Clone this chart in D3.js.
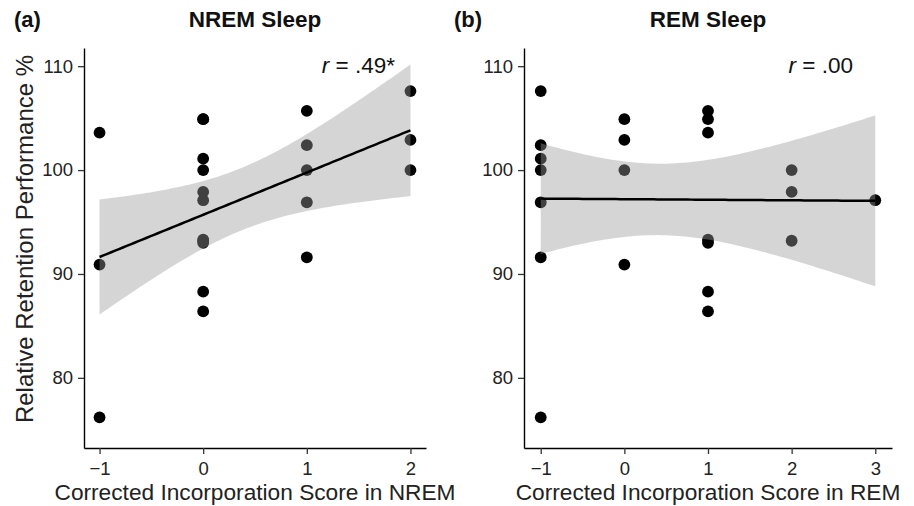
<!DOCTYPE html>
<html>
<head>
<meta charset="utf-8">
<script src="https://cdn.jsdelivr.net/npm/d3@7"></script>
<style>
  body { margin: 0; background: #fff; }
  svg { display: block; font-family: "Liberation Sans", Arial, Helvetica, sans-serif; }
</style>
</head>
<body>
<div id="chart"></div>
<script>
// values, one entry per participant
const nremScore = [-1, -1, -1, 0, 0, 0, 0, 0, 0, 0, 0, 0, 0, 0, 1, 1, 1, 1, 1, 2, 2, 2]
const nremRetention = [103.6, 90.9, 76.2, 104.9, 104.9, 101.1, 100, 97.9, 97.1, 93.3, 93.2, 93.0, 88.3, 86.4, 105.7, 102.4, 100, 96.9, 91.6, 107.6, 102.9, 100]

const remScore = [-1, -1, -1, -1, -1, -1, -1, 0, 0, 0, 0, 1, 1, 1, 1, 1, 1, 1, 2, 2, 2, 3]
const remRetention = [107.6, 102.4, 101.1, 100, 96.9, 91.6, 76.2, 104.9, 102.9, 100, 90.9, 105.7, 104.9, 103.6, 93.3, 93.0, 88.3, 86.4, 100, 97.9, 93.2, 97.1]

const nremTicks = [-1, 0, 1, 2]
const remTicks = [-1, 0, 1, 2, 3]
const retentionTicks = [80, 90, 100, 110]
const retentionLimits = [75, 110]

const panelTags = ['(a)', '(b)']
const panelTitles = ['NREM Sleep', 'REM Sleep']
const xTitles = ['Corrected Incorporation Score in NREM', 'Corrected Incorporation Score in REM']
const rValues = ['.49*', '.00']

// t quantile (0.975) for df = 20 (n = 22 in both panels)
const tCrit = 2.086

// plain least squares fit with a 95% confidence band, like geom_smooth(method = 'lm')
const fitLine = (xs, ys) => {
    const n = xs.length
    const mx = d3.mean(xs)
    const my = d3.mean(ys)
    let sxx = 0, sxy = 0
    xs.forEach((x, i) => {
        sxx += (x - mx) * (x - mx)
        sxy += (x - mx) * (ys[i] - my)
    })
    const slope = sxy / sxx
    const icpt = my - slope * mx
    let sse = 0
    xs.forEach((x, i) => {
        const r = ys[i] - (icpt + slope * x)
        sse += r * r
    })
    const s = Math.sqrt(sse / (n - 2))
    const [lo, hi] = d3.extent(xs)
    const band = d3.range(0, 81).map(k => {
        const x = lo + (hi - lo) * k / 80
        const fit = icpt + slope * x
        const half = tCrit * s * Math.sqrt(1 / n + (x - mx) * (x - mx) / sxx)
        return {x: x, fit: fit, lower: fit - half, upper: fit + half}
    })
    return band
}

// ggplot style 5% expansion
const expand = ([a, b]) => {
    const pad = (b - a) * 0.05
    return [a - pad, b + pad]
}

const width = 914
const height = 506

const svg = d3.select('#chart')
    .append('svg')
    .attr('width', width)
    .attr('height', height)

const panels = [
    {left: 84, right: 426, xs: nremScore, ys: nremRetention, ticks: nremTicks, yTitle: true},
    {left: 524, right: 892, xs: remScore, ys: remRetention, ticks: remTicks, yTitle: false}
]
const plotTop = 48
const plotBottom = 448

const yScale = d3.scaleLinear()
    .domain(expand(retentionLimits))
    .range([plotBottom, plotTop])

panels.forEach((p, i) => {

    const xScale = d3.scaleLinear()
        .domain(expand(d3.extent(p.ticks)))
        .range([p.left, p.right])

    const g = svg.append('g')

    // points first, the ribbon sits on top of them
    g.selectAll('.dot')
        .data(p.xs.map((x, k) => ({x: x, y: p.ys[k]})))
        .enter()
        .append('circle')
            .attr('cx', d => xScale(d.x))
            .attr('cy', d => yScale(d.y))
            .attr('r', 5.9)
            .attr('fill', '#000')

    const band = fitLine(p.xs, p.ys)

    g.append('path')
        .datum(band)
        .attr('fill', '#9a9a9a')
        .attr('fill-opacity', 0.42)
        .attr('d', d3.area()
            .x(d => xScale(d.x))
            .y0(d => yScale(d.lower))
            .y1(d => yScale(d.upper)))

    g.append('path')
        .datum(band)
        .attr('fill', 'none')
        .attr('stroke', '#000')
        .attr('stroke-width', 2.5)
        .attr('d', d3.line()
            .x(d => xScale(d.x))
            .y(d => yScale(d.fit)))

    // axes
    const xAxis = g.append('g')
        .attr('transform', `translate(0, ${plotBottom})`)
        .call(d3.axisBottom(xScale)
            .tickValues(p.ticks)
            .tickSize(6)
            .tickSizeOuter(0)
            .tickPadding(8)
            .tickFormat(d => d < 0 ? '\u2212' + Math.abs(d) : d))

    const yAxis = g.append('g')
        .attr('transform', `translate(${p.left}, 0)`)
        .call(d3.axisLeft(yScale)
            .tickValues(retentionTicks)
            .tickSize(6)
            .tickSizeOuter(0)
            .tickPadding(5))

    ;[xAxis, yAxis].forEach(ax => {
        ax.select('.domain').attr('stroke', '#000').attr('stroke-width', 1.4)
        ax.selectAll('.tick line').attr('stroke', '#333').attr('stroke-width', 1.3)
        ax.selectAll('.tick text')
            .attr('fill', '#222')
            .attr('font-size', '18.5px')
            .attr('font-family', '"Liberation Sans", Arial, sans-serif')
    })

    // titles
    const mid = (p.left + p.right) / 2

    svg.append('text')
        .attr('x', mid)
        .attr('y', 27)
        .attr('text-anchor', 'middle')
        .attr('font-weight', 'bold')
        .attr('font-size', '22.5px')
        .attr('fill', '#111')
        .text(panelTitles[i])

    svg.append('text')
        .attr('x', p.left - 70)
        .attr('y', 27)
        .attr('font-weight', 'bold')
        .attr('font-size', '22px')
        .attr('fill', '#111')
        .text(panelTags[i])

    svg.append('text')
        .attr('x', mid)
        .attr('y', 500)
        .attr('text-anchor', 'middle')
        .attr('font-size', '22.7px')
        .attr('fill', '#222')
        .text(xTitles[i])

    const rText = svg.append('text')
        .attr('x', p.right - (i == 0 ? 31 : 39))
        .attr('y', 73)
        .attr('text-anchor', 'end')
        .attr('font-size', '22.5px')
        .attr('fill', '#111')
    rText.append('tspan').attr('font-style', 'italic').text('r')
    rText.append('tspan').text(' = ' + rValues[i])

    if (p.yTitle) {
        svg.append('text')
            .attr('transform', `translate(33, ${(plotTop + plotBottom) / 2 - 9}) rotate(-90)`)
            .attr('text-anchor', 'middle')
            .attr('font-size', '24px')
            .attr('fill', '#222')
            .text('Relative Retention Performance %')
    }
})
</script>
</body>
</html>
